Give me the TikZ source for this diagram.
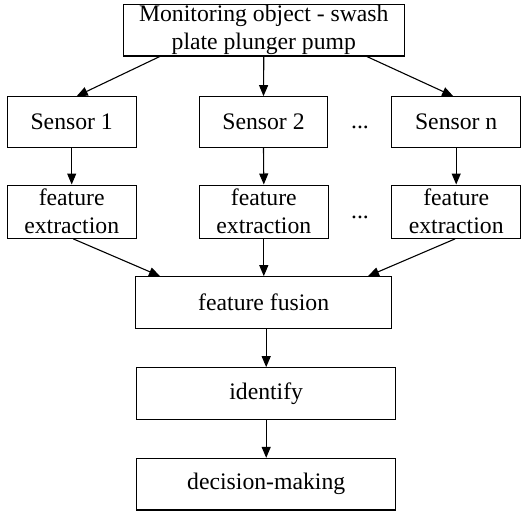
\documentclass[tikz,border=0pt]{standalone}
\usepackage{fontspec}
\setmainfont{Liberation Serif}
\usetikzlibrary{arrows.meta}
\begin{document}
\begin{tikzpicture}[x=1pt,y=-1pt,
  box/.style={draw, line width=1.1pt, inner sep=0pt, align=center,
    font=\fontsize{23.7}{28}\selectfont},
  sbox/.style={box, minimum width=128.7pt, minimum height=50.6pt},
  fbox/.style={box, minimum width=128.7pt, minimum height=53.3pt},
  wbox/.style={box, minimum width=259pt, minimum height=51.6pt},
  link/.style={line width=1.1pt, -{Triangle[length=11pt,width=9pt]}},
  dots/.style={font=\fontsize{23.7}{28}\selectfont, inner sep=0pt}]
\useasboundingbox (0,0) rectangle (527,512);
\fill[white] (0,0) rectangle (527,512);

% source and sensors
\node[box, minimum width=281pt, minimum height=51.3pt] (top) at (263.8,30.3)
  {Monitoring object - swash\\plate plunger pump};
\node[sbox] (s1) at (71.7,122) {Sensor 1};
\node[sbox] (s2) at (263.5,122) {Sensor 2};
\node[sbox] (sn) at (456.2,122) {Sensor n};
\node[dots] (d1) at (360,127) {...};

% per-sensor feature extraction
\node[fbox] (f1) at (71.7,211.7) {feature\\extraction};
\node[fbox] (f2) at (263.8,211.7) {feature\\extraction};
\node[fbox] (fn) at (456.2,211.7) {feature\\extraction};
\node[dots] (d2) at (360,217) {...};

% fusion and decision chain
\node[box, minimum width=256pt, minimum height=51.6pt] (fuse) at (263.7,302.5) {feature fusion};
\node[wbox] (ident) at (266.2,393.5) {identify};
\node[wbox] (dec) at (266.2,484.2) {decision-making};

% connectors
\draw[link] ([xshift=-104pt]top.south) -- ([xshift=5pt]s1.north);
\draw[link] (top.south) -- (s2.north);
\draw[link] ([xshift=103pt]top.south) -- ([xshift=-3pt]sn.north);
\draw[link] (s1.south) -- (f1.north);
\draw[link] (s2.south) -- (f2.north);
\draw[link] (sn.south) -- (fn.north);
\draw[link] ([xshift=1.6pt]f1.south) -- ([xshift=-103.7pt]fuse.north);
\draw[link] (f2.south) -- (f2.south |- fuse.north);
\draw[link] ([xshift=-1.2pt]fn.south) -- ([xshift=104.3pt]fuse.north);
\draw[link] (fuse.south -| ident.north) -- (ident.north);
\draw[link] (ident.south) -- (dec.north);
\end{tikzpicture}
\end{document}
